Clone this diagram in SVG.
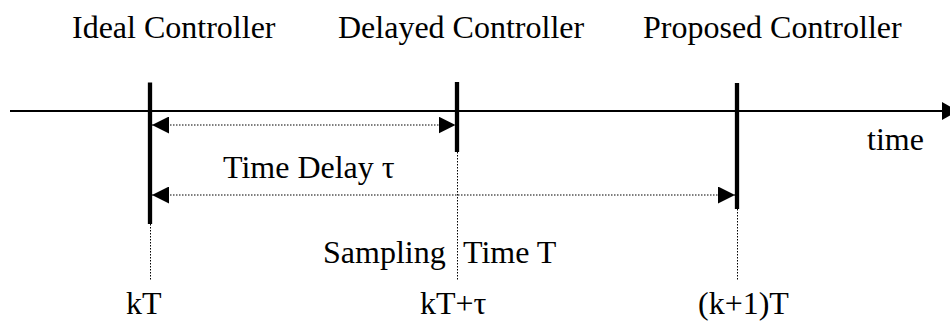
<svg xmlns="http://www.w3.org/2000/svg" width="950" height="322" viewBox="0 0 950 322">
  <style>
    text { font-family: "Liberation Serif", "Times New Roman", serif; font-size: 32px; fill: #000; }
    .bar { stroke: #000; stroke-width: 4.3; fill: none; }
    .guide { stroke: #000; stroke-width: 1; stroke-dasharray: 1.5 1.5; fill: none; }
    .axis { stroke: #000; stroke-width: 2; fill: none; }
    .dim { stroke: #000; stroke-width: 1.2; stroke-dasharray: 1.5 1.5; fill: none; }
  </style>
  <defs>
    <marker id="head" markerUnits="userSpaceOnUse" markerWidth="17" markerHeight="17" refX="17" refY="8.5" orient="auto-start-reverse" viewBox="0 0 17 17">
      <path d="M0,0 L17,8.5 L0,17 Z" fill="#000"/>
    </marker>
  </defs>

  <rect width="950" height="322" fill="#fff"/>

  <!-- connectors: time axis and the two interval arrows -->
  <g id="connectors">
    <line class="axis" x1="10" y1="111" x2="944" y2="111"/>
    <path d="M942,102 L958,111 L942,120 Z" fill="#000"/>
    <line class="dim" x1="152" y1="125" x2="455.5" y2="125" marker-start="url(#head)" marker-end="url(#head)"/>
    <line class="dim" x1="152" y1="195" x2="735" y2="195" marker-start="url(#head)" marker-end="url(#head)"/>
  </g>

  <!-- instant kT: ideal controller -->
  <g id="ideal">
    <line class="bar" x1="150" y1="82.5" x2="150" y2="224"/>
    <line class="guide" x1="150.5" y1="224" x2="150.5" y2="280"/>
    <text x="72" y="38">Ideal Controller</text>
    <text x="126" y="314">kT</text>
  </g>

  <!-- instant kT+tau: delayed controller -->
  <g id="delayed">
    <line class="bar" x1="457" y1="82" x2="457" y2="152"/>
    <line class="guide" x1="457.5" y1="152" x2="457.5" y2="280"/>
    <text x="338" y="38">Delayed Controller</text>
    <text x="420" y="314">kT+τ</text>
  </g>

  <!-- instant (k+1)T: proposed controller -->
  <g id="proposed">
    <line class="bar" x1="737" y1="83" x2="737" y2="209"/>
    <line class="guide" x1="737.5" y1="209" x2="737.5" y2="280"/>
    <text x="643" y="38">Proposed Controller</text>
    <text x="698" y="314">(k+1)T</text>
  </g>

  <!-- interval and axis labels -->
  <g id="labels">
    <text x="867" y="150">time</text>
    <text x="223" y="178">Time Delay τ</text>
    <text x="323" y="263">Sampling</text>
    <text x="463" y="263">Time T</text>
  </g>
</svg>
